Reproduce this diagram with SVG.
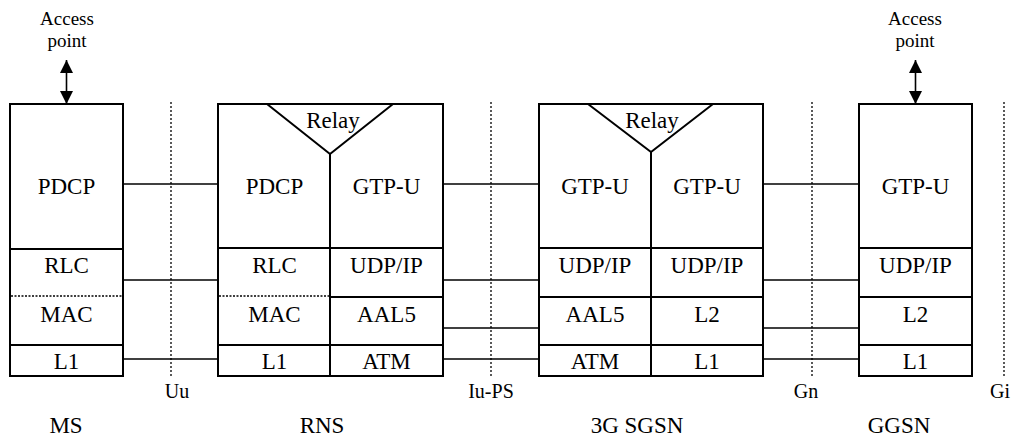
<svg xmlns="http://www.w3.org/2000/svg" width="1022" height="438" viewBox="0 0 1022 438">
<style>
  text { font-family: "Liberation Serif", "Times New Roman", serif; fill: #000; text-anchor: middle; }
  .lay { font-size: 23px; }
  .relay { font-size: 23px; }
  .ap { font-size: 19px; }
  .itf { font-size: 20px; }
  .name { font-size: 23px; }
  .box { fill: #fff; stroke: #000; stroke-width: 2; }
  .div { stroke: #000; stroke-width: 2; fill: none; }
  .dot { stroke: #000; stroke-width: 1.6; stroke-dasharray: 2 1.5; fill: none; }
  .vdot { stroke: #000; stroke-width: 1.3; stroke-dasharray: 2 2; fill: none; }
  .con { stroke: #000; stroke-width: 1.6; fill: none; }
  .arr { stroke: #000; stroke-width: 1.6; fill: none; marker-start: url(#ah); marker-end: url(#ah); }
</style>
<defs>
  <marker id="ah" viewBox="0 0 10 10" refX="10" refY="5" markerWidth="13" markerHeight="13" markerUnits="userSpaceOnUse" orient="auto-start-reverse">
    <path d="M0,0 L10,5 L0,10 z" fill="#000"/>
  </marker>
</defs>

<g id="interfaces">
  <line class="vdot" x1="171" y1="102" x2="171" y2="376"/>
  <line class="vdot" x1="491" y1="102" x2="491" y2="376"/>
  <line class="vdot" x1="812" y1="102" x2="812" y2="376"/>
  <line class="vdot" x1="1004" y1="102" x2="1004" y2="376"/>
  <text class="itf" x="177" y="398">Uu</text>
  <text class="itf" x="491" y="398">Iu-PS</text>
  <text class="itf" x="806" y="398">Gn</text>
  <text class="itf" x="1000" y="398">Gi</text>
</g>

<g id="connectors">
  <line class="con" x1="123" y1="184" x2="218" y2="184"/>
  <line class="con" x1="123" y1="280" x2="218" y2="280"/>
  <line class="con" x1="123" y1="359" x2="218" y2="359"/>
  <line class="con" x1="443" y1="184" x2="539" y2="184"/>
  <line class="con" x1="443" y1="280" x2="539" y2="280"/>
  <line class="con" x1="443" y1="328" x2="539" y2="328"/>
  <line class="con" x1="443" y1="359" x2="539" y2="359"/>
  <line class="con" x1="763" y1="184" x2="859" y2="184"/>
  <line class="con" x1="763" y1="280" x2="859" y2="280"/>
  <line class="con" x1="763" y1="328" x2="859" y2="328"/>
  <line class="con" x1="763" y1="359" x2="859" y2="359"/>
</g>

<g id="ap-ms">
  <text class="ap" x="67" y="25">Access</text>
  <text class="ap" x="67" y="47">point</text>
  <line class="arr" x1="66.5" y1="60" x2="66.5" y2="104"/>
</g>

<g id="ap-ggsn">
  <text class="ap" x="915" y="25">Access</text>
  <text class="ap" x="915" y="47">point</text>
  <line class="arr" x1="915.5" y1="60" x2="915.5" y2="104"/>
</g>

<g id="ms">
  <rect class="box" x="10" y="104" width="113" height="272"/>
  <line class="div" x1="10" y1="249" x2="123" y2="249"/>
  <line class="dot" x1="11" y1="296" x2="122" y2="296"/>
  <line class="div" x1="10" y1="345" x2="123" y2="345"/>
  <text class="lay" x="66.5" y="194">PDCP</text>
  <text class="lay" x="66.5" y="273">RLC</text>
  <text class="lay" x="66.5" y="322">MAC</text>
  <text class="lay" x="66.5" y="369">L1</text>
  <text class="name" x="66" y="433">MS</text>
</g>

<g id="rns">
  <rect class="box" x="218" y="104" width="225" height="272"/>
  <polyline class="div" points="267,104 330,154 393,104"/>
  <line class="div" x1="330" y1="154" x2="330" y2="376"/>
  <line class="div" x1="218" y1="248" x2="443" y2="248"/>
  <line class="dot" x1="219" y1="296" x2="330" y2="296"/>
  <line class="div" x1="330" y1="297" x2="443" y2="297"/>
  <line class="div" x1="218" y1="345" x2="443" y2="345"/>
  <text class="relay" x="333" y="128">Relay</text>
  <text class="lay" x="274.5" y="194">PDCP</text>
  <text class="lay" x="386.5" y="194">GTP-U</text>
  <text class="lay" x="274.5" y="273">RLC</text>
  <text class="lay" x="386.5" y="273">UDP/IP</text>
  <text class="lay" x="274.5" y="322">MAC</text>
  <text class="lay" x="386.5" y="322">AAL5</text>
  <text class="lay" x="274.5" y="369">L1</text>
  <text class="lay" x="386.5" y="369">ATM</text>
  <text class="name" x="322" y="433">RNS</text>
</g>

<g id="sgsn">
  <rect class="box" x="539" y="104" width="224" height="272"/>
  <polyline class="div" points="588,104 651,152 713,104"/>
  <line class="div" x1="651" y1="152" x2="651" y2="376"/>
  <line class="div" x1="539" y1="248" x2="763" y2="248"/>
  <line class="div" x1="539" y1="297" x2="763" y2="297"/>
  <line class="div" x1="539" y1="345" x2="763" y2="345"/>
  <text class="relay" x="652" y="128">Relay</text>
  <text class="lay" x="595" y="194">GTP-U</text>
  <text class="lay" x="707" y="194">GTP-U</text>
  <text class="lay" x="595" y="273">UDP/IP</text>
  <text class="lay" x="707" y="273">UDP/IP</text>
  <text class="lay" x="595" y="322">AAL5</text>
  <text class="lay" x="707" y="322">L2</text>
  <text class="lay" x="595" y="369">ATM</text>
  <text class="lay" x="707" y="369">L1</text>
  <text class="name" x="637" y="433">3G SGSN</text>
</g>

<g id="ggsn">
  <rect class="box" x="859" y="104" width="113" height="272"/>
  <line class="div" x1="859" y1="248" x2="972" y2="248"/>
  <line class="div" x1="859" y1="297" x2="972" y2="297"/>
  <line class="div" x1="859" y1="345" x2="972" y2="345"/>
  <text class="lay" x="915.5" y="194">GTP-U</text>
  <text class="lay" x="915.5" y="273">UDP/IP</text>
  <text class="lay" x="915.5" y="322">L2</text>
  <text class="lay" x="915.5" y="369">L1</text>
  <text class="name" x="899" y="433">GGSN</text>
</g>
</svg>
